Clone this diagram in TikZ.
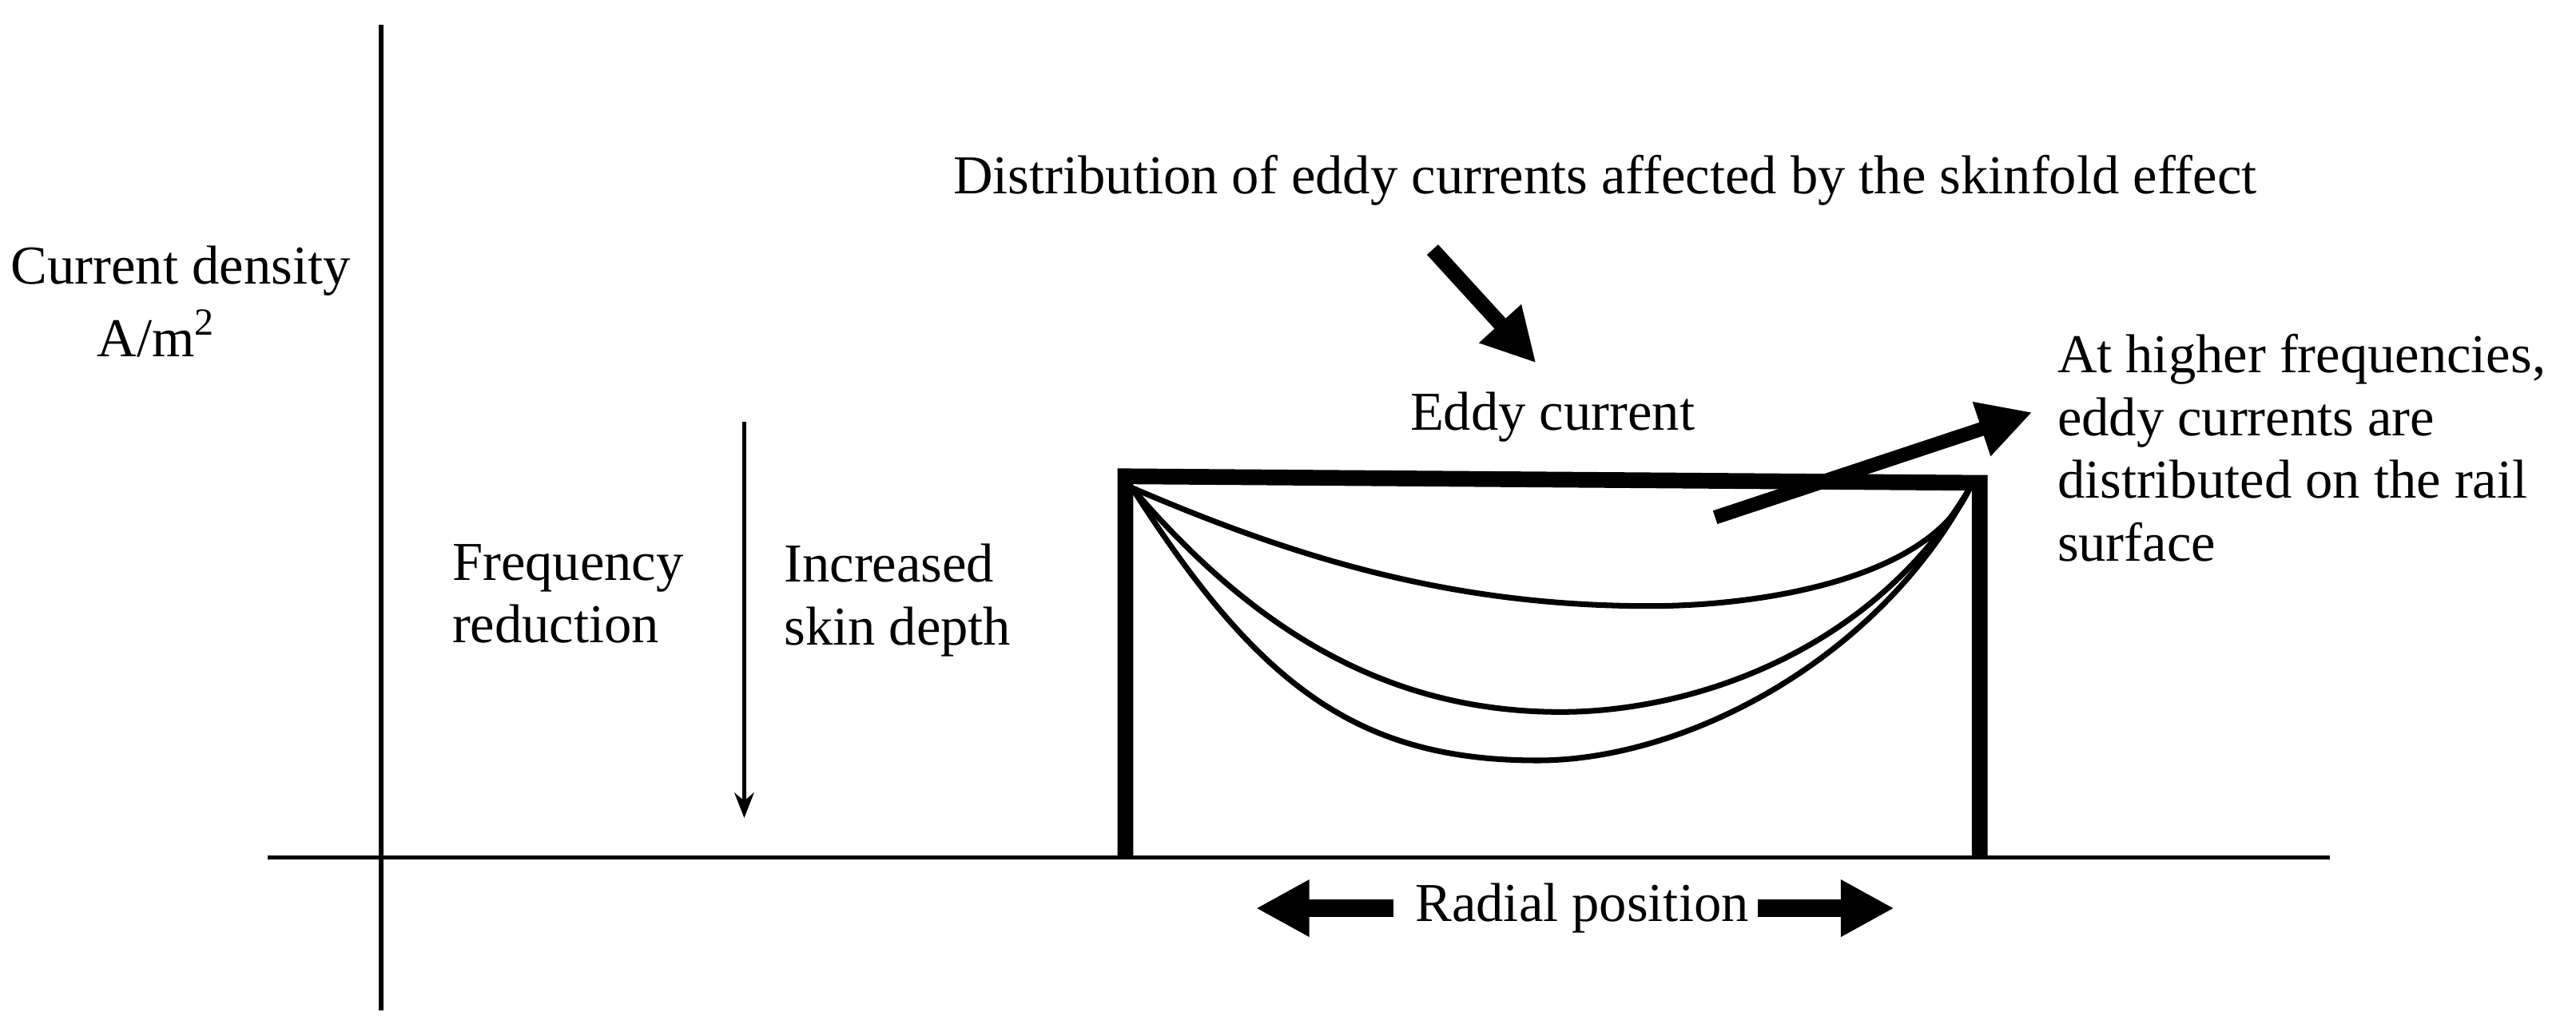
\documentclass[tikz,border=0pt]{standalone}
\usepackage{fontspec}
\setmainfont{Liberation Serif}
\usetikzlibrary{arrows.meta}
\begin{document}
\begin{tikzpicture}[x=0.02056cm,y=-0.02056cm,
  lbl/.style={inner sep=0pt,font=\fontsize{19.5}{22.4}\selectfont},
  axis/.style={line width=1.6pt},
  bar/.style={line width=5.6pt,line join=miter},
  curve/.style={line width=2pt},
  fatarrow/.style={line width=5.4pt,-{Triangle[length=19pt,width=19pt]}},
  radarrow/.style={line width=6.4pt,-{Triangle[length=19pt,width=19pt]}}]
\useasboundingbox (0,0) rectangle (1568,628);
% axes
\coordinate (yt) at (232,15); \coordinate (yb) at (232,615);
\coordinate (xl) at (163,522); \coordinate (xr) at (1418,522);
\draw[axis] (yt) -- (yb);
\draw[axis] (xl) -- (xr);
% axis label
\node[lbl] (cd) at (110,165) {Current density};
\node[lbl] (unit) at (95,203) {A/m\textsuperscript{2}};
% thin arrow
\coordinate (ta) at (453,257); \coordinate (tb) at (453,498);
\draw[line width=1.2pt,-{Stealth[length=9pt,width=7pt]}] (ta) -- (tb);
\node[lbl,align=left,anchor=north west] (fr) at (275,331) {Frequency\\reduction};
\node[lbl,align=left,anchor=north west] (isd) at (477,331) {Increased\\skin depth};
% box
\coordinate (bl) at (685,522); \coordinate (tl) at (685,290);
\coordinate (tr) at (1205,294); \coordinate (br) at (1205,522);
\draw[bar] (bl) -- (tl) -- (tr) -- (br);
% curves
\coordinate (cs) at (689,297); \coordinate (ce) at (1199,297);
\coordinate (m1) at (1004,369); \coordinate (m2) at (950,433.5); \coordinate (m3) at (936,463);
\draw[curve] (cs) .. controls (789,340) and (884,369) .. (m1)
                  .. controls (1074,369) and (1175,352) .. (ce);
\draw[curve] (cs) .. controls (759,379) and (840,433.5) .. (m2)
                  .. controls (1030,433.5) and (1140,397) .. (ce);
\draw[curve] (cs) .. controls (765,416) and (825,463) .. (m3)
                  .. controls (1026,463) and (1144,401.5) .. (ce);
% texts and arrows
\node[lbl] (dist) at (977,110) {Distribution of eddy currents affected by the skinfold effect};
\node[lbl] (eddy) at (945,254) {Eddy current};
\coordinate (a1s) at (872,152); \coordinate (a1e) at (935,221);
\draw[fatarrow] (a1s) -- (a1e);
\coordinate (a2s) at (1044,315); \coordinate (a2e) at (1237,251);
\draw[fatarrow,line width=5pt] (a2s) -- (a2e);
\node[lbl,align=left,anchor=north west] (hf) at (1252,203) {At higher frequencies,\\eddy currents are\\distributed on the rail\\surface};
\node[lbl] (rad) at (963,553) {Radial position};
\coordinate (rl) at (764.5,553); \coordinate (rr) at (1153,553);
\coordinate (rls) at (848,553); \coordinate (rrs) at (1070,553);
\draw[radarrow] (rls) -- (rl);
\draw[radarrow] (rrs) -- (rr);
\end{tikzpicture}
\end{document}
